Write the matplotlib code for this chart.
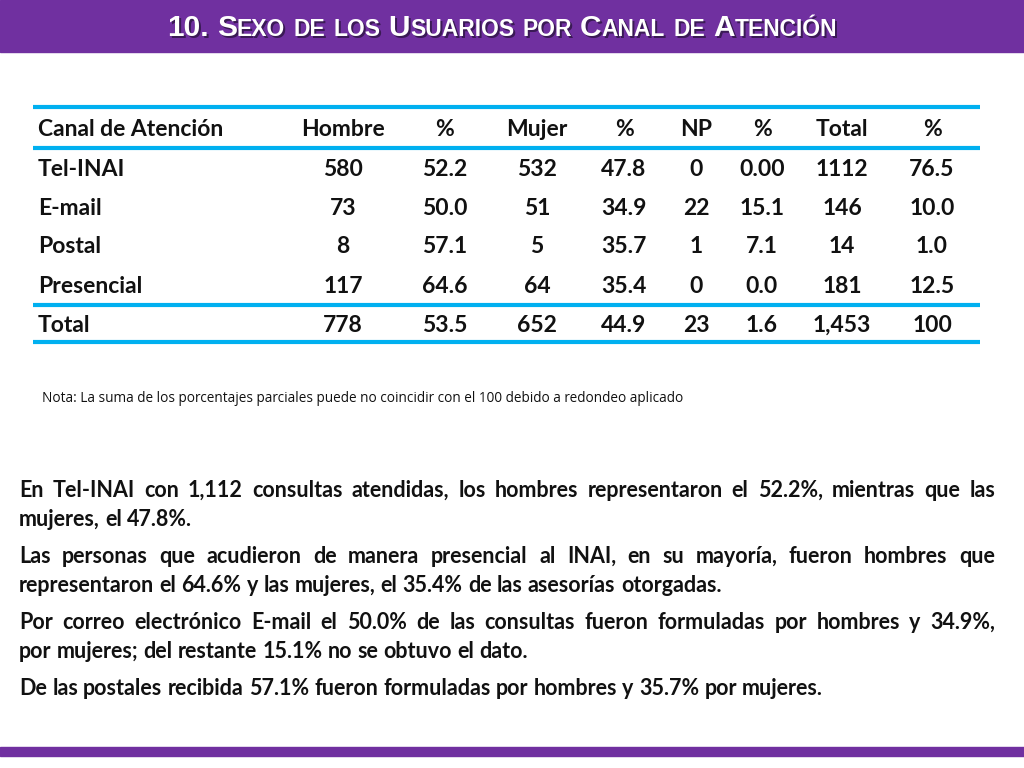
import matplotlib
matplotlib.use("Agg")
import matplotlib.pyplot as plt
from matplotlib.patches import Rectangle

headers = ["Canal de Atención", "Hombre", "%", "Mujer", "%", "NP", "%", "Total", "%"]
canales = ["Tel-INAI", "E-mail", "Postal", "Presencial", "Total"]
hombre = ["580", "73", "8", "117", "778"]
pct_h = ["52.2", "50.0", "57.1", "64.6", "53.5"]
mujer = ["532", "51", "5", "64", "652"]
pct_m = ["47.8", "34.9", "35.7", "35.4", "44.9"]
np_ = ["0", "22", "1", "0", "23"]
pct_np = ["0.00", "15.1", "7.1", "0.0", "1.6"]
total = ["1112", "146", "14", "181", "1,453"]
pct_t = ["76.5", "10.0", "1.0", "12.5", "100"]

nota = "Nota: La suma de los porcentajes parciales puede no coincidir con el 100 debido a redondeo aplicado"
paragraphs = [
    ["En Tel-INAI con 1,112 consultas atendidas, los hombres representaron el 52.2%, mientras que las", "mujeres, el 47.8%."],
    ["Las personas que acudieron de manera presencial al INAI, en su mayoría, fueron hombres que", "representaron el 64.6% y las mujeres, el 35.4% de las asesorías otorgadas."],
    ["Por correo electrónico E-mail el 50.0% de las consultas fueron formuladas por hombres y 34.9%,", "por mujeres; del restante 15.1% no se obtuvo el dato."],
    ["De las postales recibida 57.1% fueron formuladas por hombres y 35.7% por mujeres."],
]

PURPLE = "#7030A0"
BLUE = "#00B0F0"
FONT = "Lato"

fig = plt.figure(figsize=(10.24, 7.68), dpi=100)
ax = fig.add_axes([0, 0, 1, 1])
ax.set_xlim(0, 1024); ax.set_ylim(768, 0); ax.axis("off")
fig.canvas.draw()
r = fig.canvas.get_renderer()

def width(s, **kw):
    t = ax.text(0, 0, s, **kw)
    w = t.get_window_extent(renderer=r).width
    t.remove()
    return w

ax.add_patch(Rectangle((0, 0), 1024, 52, color=PURPLE, zorder=0))
ax.add_patch(Rectangle((0, 747), 1024, 9, color=PURPLE, zorder=0))

# title in small caps
BIG, SMALL = 21.5, 16.5
title_segs = []
for word in "10. Sexo de los Usuarios por Canal de Atención".split(" "):
    if word == "10.":
        title_segs.append(("10.", BIG))
    elif word[0].isupper():
        title_segs.append((word[0], BIG)); title_segs.append((word[1:].upper(), SMALL))
    else:
        title_segs.append((word.upper(), SMALL))
    title_segs.append((" ", BIG))
title_segs = title_segs[:-1]
tk = dict(family="Liberation Sans", weight="bold")
ws = [width(s, fontsize=f, **tk) for s, f in title_segs]
x = 502 - sum(ws) / 2
for (s, f), w in zip(title_segs, ws):
    ax.text(x + 2, 38, s, fontsize=f, color="#3a1a55", va="baseline", **tk)
    ax.text(x, 36, s, fontsize=f, color="white", va="baseline", **tk)
    x += w

# table
for y in [107, 148, 305, 342]:
    ax.plot([33, 980], [y, y], color=BLUE, lw=3, solid_capstyle="butt")
xs = [343, 445, 537, 624, 696, 762, 842, 932]
rows_y = [176, 215, 253, 293, 332]
fk = dict(family=FONT, weight="bold", fontsize=16.5, va="baseline", color="#111111")
ax.text(38, 136, headers[0], ha="left", **fk)
for h, x in zip(headers[1:], xs):
    ax.text(x, 136, h, ha="center", **fk)
cols = [hombre, pct_h, mujer, pct_m, np_, pct_np, total, pct_t]
for i, (c, y) in enumerate(zip(canales, rows_y)):
    ax.text(38, y, c, ha="left", **fk)
    for col, x in zip(cols, xs):
        ax.text(x, y, col[i], ha="center", **fk)

ax.text(42, 402, nota, fontsize=9.8, family="Open Sans", va="baseline", color="#111111")

# justified paragraphs
pk = dict(family=FONT, weight="bold", fontsize=15.5, color="#111111", va="baseline")
left, right = 19, 995
y = 497
space = width("a b", **pk) - width("ab", **pk)
for para in paragraphs:
    for li, line in enumerate(para):
        words = line.split(" ")
        last = li == len(para) - 1
        wws = [width(w, **pk) for w in words]
        gap = space if last or len(words) < 2 else (right - left - sum(wws)) / (len(words) - 1)
        x = left
        for w, ww in zip(words, wws):
            ax.text(x, y, w, **pk)
            x += ww + gap
        y += 29
    y += 8

fig.savefig("out.png", dpi=100)
